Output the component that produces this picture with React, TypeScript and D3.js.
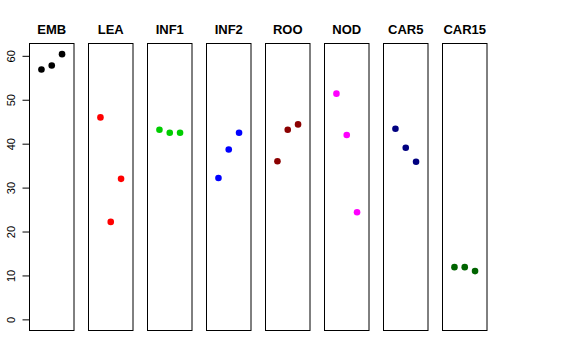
import React from "react";
import * as d3 from "d3";

const categories = ["EMB", "LEA", "INF1", "INF2", "ROO", "NOD", "CAR5", "CAR15"];
const colors = ["#000000", "#FF0000", "#00CD00", "#0000FF", "#8B0000", "#FF00FF", "#000080", "#006400"];
const valEMB = [57.0, 57.9, 60.5];
const valLEA = [46.1, 22.3, 32.1];
const valINF1 = [43.3, 42.6, 42.6];
const valINF2 = [32.3, 38.8, 42.6];
const valROO = [36.1, 43.3, 44.5];
const valNOD = [51.5, 42.1, 24.5];
const valCAR5 = [43.5, 39.2, 36.0];
const valCAR15 = [12.0, 12.0, 11.1];
const series = [valEMB, valLEA, valINF1, valINF2, valROO, valNOD, valCAR5, valCAR15];
const yTicks = [0, 10, 20, 30, 40, 50, 60];

const W = 576, H = 360;
const panelLeft0 = 29.5, panelStep = 59, panelW = 44.5;
const top = 43.5, bottom = 330.5;

export default function App() {
  const yMin = 0, yMax = 60.5, yr = yMax - yMin;
  const y = d3.scaleLinear().domain([yMin - 0.04 * yr, yMax + 0.04 * yr]).range([bottom, top]);
  return (
    <svg width={W} height={H} style={{ position: "absolute", left: 0, top: 0 }} fontFamily="'Liberation Sans', Arial, sans-serif">
      <rect width={W} height={H} fill="white" />
      {series.map((vals, i) => {
        const x0 = panelLeft0 + i * panelStep;
        const x = d3.scaleLinear().domain([-0.16, 4.16]).range([x0, x0 + panelW]);
        return (
          <g key={categories[i]}>
            <rect x={x0} y={top} width={panelW} height={bottom - top} fill="none" stroke="#000" strokeWidth={1} />
            <text x={x0 + panelW / 2} y={34} textAnchor="middle" fontWeight="bold" fontSize={13}>{categories[i]}</text>
            {vals.map((v, j) => (
              <circle key={j} cx={x(j + 1)} cy={y(v)} r={3.3} fill={colors[i]} />
            ))}
          </g>
        );
      })}
      <g>
        <line x1={panelLeft0} x2={panelLeft0} y1={y(0)} y2={y(60)} stroke="#000" />
        {yTicks.map((t) => (
          <g key={t}>
            <line x1={panelLeft0 - 7} x2={panelLeft0} y1={y(t)} y2={y(t)} stroke="#000" />
            <text transform={`translate(14.5,${y(t)}) rotate(-90)`} textAnchor="middle" fontSize={11}>{t}</text>
          </g>
        ))}
      </g>
    </svg>
  );
}
